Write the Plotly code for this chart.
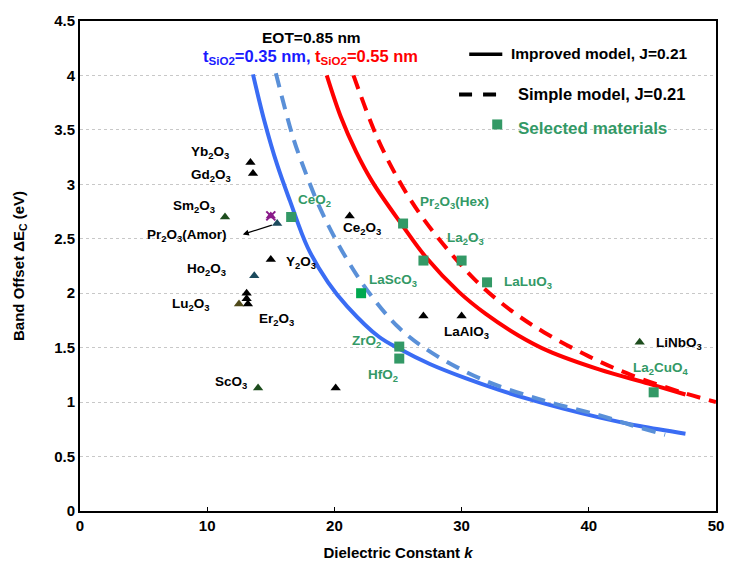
import plotly.graph_objects as go

# ---------------- data ----------------
blue_solid_k = [13.6, 14.5, 15.5, 16.5, 17.9, 19.5, 21.0, 23.5, 25.1, 27.5, 30.3, 33.0, 35.5, 38.0, 40.8, 44.0, 47.6]
blue_solid_E = [4.01, 3.58, 3.18, 2.85, 2.42, 2.10, 1.88, 1.60, 1.49, 1.35, 1.22, 1.11, 1.02, 0.94, 0.86, 0.78, 0.71]

blue_dash_k = [15.4, 16.7, 17.5, 18.8, 20.4, 22.5, 25.1, 27.7, 31.6, 36.3, 40.8, 43.3, 46.0]
blue_dash_E = [4.02, 3.45, 3.18, 2.80, 2.43, 2.04, 1.68, 1.45, 1.21, 1.02, 0.88, 0.79, 0.70]

red_solid_k = [19.4, 20.5, 21.7, 23.0, 25.3, 27.2, 29.8, 31.9, 34.5, 36.8, 40.8, 44.7, 47.6]
red_solid_E = [4.00, 3.62, 3.30, 3.02, 2.63, 2.33, 2.01, 1.81, 1.61, 1.47, 1.30, 1.17, 1.07]

red_dash_k = [21.5, 23.4, 25.1, 26.6, 28.0, 29.5, 31.0, 32.7, 34.5, 36.5, 40.0, 43.3, 47.3, 50.0]
red_dash_E = [4.00, 3.42, 3.03, 2.75, 2.53, 2.32, 2.13, 1.95, 1.79, 1.64, 1.42, 1.25, 1.09, 1.00]

sel_names = ["CeO2", "Pr2O3(Hex)", "La2O3", "La2O3", "LaLuO3", "ZrO2", "HfO2", "La2CuO4"]
sel_k = [16.6, 25.4, 27.0, 30.0, 32.0, 25.1, 25.1, 45.1]
sel_E = [2.70, 2.64, 2.30, 2.30, 2.10, 1.51, 1.40, 1.09]
lasco_k = [22.1]
lasco_E = [2.00]

blk_k = [13.4, 13.6, 15.0, 13.1, 13.1, 13.2, 20.1, 21.2, 27.0, 30.0]
blk_E = [3.20, 3.10, 2.31, 2.00, 1.95, 1.90, 1.13, 2.71, 1.79, 1.79]
dgreen_k = [11.4, 14.0, 44.0]
dgreen_E = [2.70, 1.13, 1.55]
teal_k = [15.5, 13.7]
teal_E = [2.64, 2.16]
olive_k = [12.5]
olive_E = [1.90]
purple_k = [15.0]
purple_E = [2.71]

# labels: (text, k, E, anchor, colour)
GREEN = "#339966"
labels = [
    ("Yb<sub>2</sub>O<sub>3</sub>", 11.9, 3.29, "right", "black"),
    ("Gd<sub>2</sub>O<sub>3</sub>", 12.0, 3.08, "right", "black"),
    ("Sm<sub>2</sub>O<sub>3</sub>", 10.8, 2.80, "right", "black"),
    ("Pr<sub>2</sub>O<sub>3</sub>(Amor)", 11.75, 2.53, "right", "black"),
    ("Ho<sub>2</sub>O<sub>3</sub>", 11.6, 2.22, "right", "black"),
    ("Lu<sub>2</sub>O<sub>3</sub>", 10.4, 1.90, "right", "black"),
    ("Er<sub>2</sub>O<sub>3</sub>", 13.9, 1.76, "left", "black"),
    ("ScO<sub>3</sub>", 13.3, 1.18, "right", "black"),
    ("Y<sub>2</sub>O<sub>3</sub>", 16.0, 2.28, "left", "black"),
    ("Ce<sub>2</sub>O<sub>3</sub>", 20.5, 2.59, "left", "black"),
    ("LaAlO<sub>3</sub>", 28.45, 1.64, "left", "black"),
    ("LiNbO<sub>3</sub>", 45.1, 1.54, "left", "black"),
    ("CeO<sub>2</sub>", 17.0, 2.85, "left", GREEN),
    ("Pr<sub>2</sub>O<sub>3</sub>(Hex)", 26.6, 2.83, "left", GREEN),
    ("La<sub>2</sub>O<sub>3</sub>", 28.7, 2.50, "left", GREEN),
    ("LaScO<sub>3</sub>", 22.6, 2.12, "left", GREEN),
    ("LaLuO<sub>3</sub>", 33.15, 2.10, "left", GREEN),
    ("ZrO<sub>2</sub>", 21.2, 1.56, "left", GREEN),
    ("HfO<sub>2</sub>", 22.5, 1.24, "left", GREEN),
    ("La<sub>2</sub>CuO<sub>4</sub>", 43.3, 1.31, "left", GREEN),
]

FONT = "Liberation Sans, Arial, Helvetica, sans-serif"

fig = go.Figure()

fig.add_trace(go.Scatter(x=blue_solid_k, y=blue_solid_E, mode="lines",
                         line=dict(color="#3a6cf4", width=4, shape="spline", smoothing=1.0), showlegend=False))
fig.add_trace(go.Scatter(x=blue_dash_k, y=blue_dash_E, mode="lines",
                         line=dict(color="#5a90d8", width=4, shape="spline", smoothing=1.0, dash="14px,9px"),
                         showlegend=False))
fig.add_trace(go.Scatter(x=red_solid_k, y=red_solid_E, mode="lines",
                         line=dict(color="#ff0000", width=4, shape="spline", smoothing=1.0), showlegend=False))
fig.add_trace(go.Scatter(x=red_dash_k, y=red_dash_E, mode="lines",
                         line=dict(color="#ff0000", width=4, shape="spline", smoothing=1.0, dash="14px,9px"),
                         showlegend=False))

fig.add_trace(go.Scatter(x=sel_k, y=sel_E, mode="markers", text=sel_names,
                         marker=dict(symbol="square", size=10, color=GREEN), showlegend=False))
fig.add_trace(go.Scatter(x=lasco_k, y=lasco_E, mode="markers",
                         marker=dict(symbol="square", size=10, color="#00a84f"), showlegend=False))

tri = dict(symbol="triangle-up", size=9)
fig.add_trace(go.Scatter(x=blk_k, y=blk_E, mode="markers", marker=dict(color="black", **tri), showlegend=False))
fig.add_trace(go.Scatter(x=dgreen_k, y=dgreen_E, mode="markers", marker=dict(color="#1d4d1d", **tri), showlegend=False))
fig.add_trace(go.Scatter(x=teal_k, y=teal_E, mode="markers", marker=dict(color="#1b4a5c", **tri), showlegend=False))
fig.add_trace(go.Scatter(x=olive_k, y=olive_E, mode="markers", marker=dict(color="#4f4a1a", **tri), showlegend=False))
fig.add_trace(go.Scatter(x=purple_k, y=purple_E, mode="markers", marker=dict(color="#8a1a8a", **tri), showlegend=False))
fig.add_trace(go.Scatter(x=purple_k, y=purple_E, mode="markers",
                         marker=dict(symbol="x-thin", size=9, line=dict(color="#8a1a8a", width=2)), showlegend=False))

annots = []
for t, k, e, anc, col in labels:
    annots.append(dict(x=k, y=e, xref="x", yref="y", text=t, showarrow=False, xanchor=anc, yanchor="middle",
                       font=dict(family=FONT, size=13.5, color=col, weight="bold")))

# arrow from Pr2O3 (amorphous) point to its label
annots.append(dict(x=12.8, y=2.54, ax=15.2, ay=2.63, xref="x", yref="y", axref="x", ayref="y",
                   text="", showarrow=True, arrowhead=2, arrowsize=1, arrowwidth=1.2, arrowcolor="black"))

# titles inside plot
annots.append(dict(x=18.2, y=4.35, xref="x", yref="y", text="EOT=0.85 nm", showarrow=False,
                   font=dict(family=FONT, size=15.5, color="black", weight="bold")))
annots.append(dict(x=18.1, y=4.17, xref="x", yref="y",
                   text="<span style='color:#1a1aff'>t<sub>SiO2</sub>=0.35 nm,</span> "
                        "<span style='color:#ff0000'>t<sub>SiO2</sub>=0.55 nm</span>",
                   showarrow=False, font=dict(family=FONT, size=16.5, weight="bold")))

# legend (drawn manually)
annots.append(dict(x=33.7, y=4.2, xref="x", yref="y", xanchor="left", text="Improved model, J=0.21",
                   showarrow=False, font=dict(family=FONT, size=15.5, color="black", weight="bold")))
annots.append(dict(x=34.25, y=3.83, xref="x", yref="y", xanchor="left", text="Simple model, J=0.21",
                   showarrow=False, font=dict(family=FONT, size=16.5, color="black", weight="bold")))
annots.append(dict(x=34.25, y=3.51, xref="x", yref="y", xanchor="left", text="Selected materials",
                   showarrow=False, font=dict(family=FONT, size=17, color=GREEN, weight="bold")))

shapes = [
    dict(type="line", x0=30.6, x1=33.2, y0=4.195, y1=4.195, xref="x", yref="y",
         line=dict(color="black", width=3.5)),
    dict(type="line", x0=29.8, x1=33.4, y0=3.825, y1=3.825, xref="x", yref="y",
         line=dict(color="black", width=4, dash="13px,11px")),
    dict(type="rect", xref="x", yref="y", xsizemode="pixel", ysizemode="pixel",
         xanchor=32.8, yanchor=3.55, x0=-5, x1=5, y0=-5, y1=5,
         fillcolor=GREEN, line=dict(width=0)),
]

fig.update_layout(
    width=730, height=575,
    margin=dict(l=80, r=12, t=19, b=64),
    paper_bgcolor="white", plot_bgcolor="white",
    font=dict(family=FONT, size=15, color="black"),
    annotations=annots, shapes=shapes,
    showlegend=False,
)
fig.update_xaxes(range=[0, 50], dtick=10, showgrid=False, zeroline=False, automargin=False,
                 showline=True, linecolor="black", linewidth=2, mirror=True,
                 ticks="inside", ticklen=4, tickcolor="black",
                 tickfont=dict(family=FONT, size=15, weight="bold"),
                 title=dict(text="Dielectric Constant <i>k</i>", standoff=14,
                            font=dict(family=FONT, size=15, weight="bold")))
fig.update_yaxes(range=[0, 4.5], dtick=0.5, showgrid=True, gridcolor="#c8c8c8", griddash="3px,3px",
                 gridwidth=1, zeroline=False,
                 showline=True, linecolor="black", linewidth=2, mirror=True,
                 ticks="", tickfont=dict(family=FONT, size=15, weight="bold"),
                 title=dict(text="Band Offset \u0394E<sub>C</sub> (eV)", standoff=26,
                            font=dict(family=FONT, size=15, weight="bold")))

fig.write_html("out.html")
